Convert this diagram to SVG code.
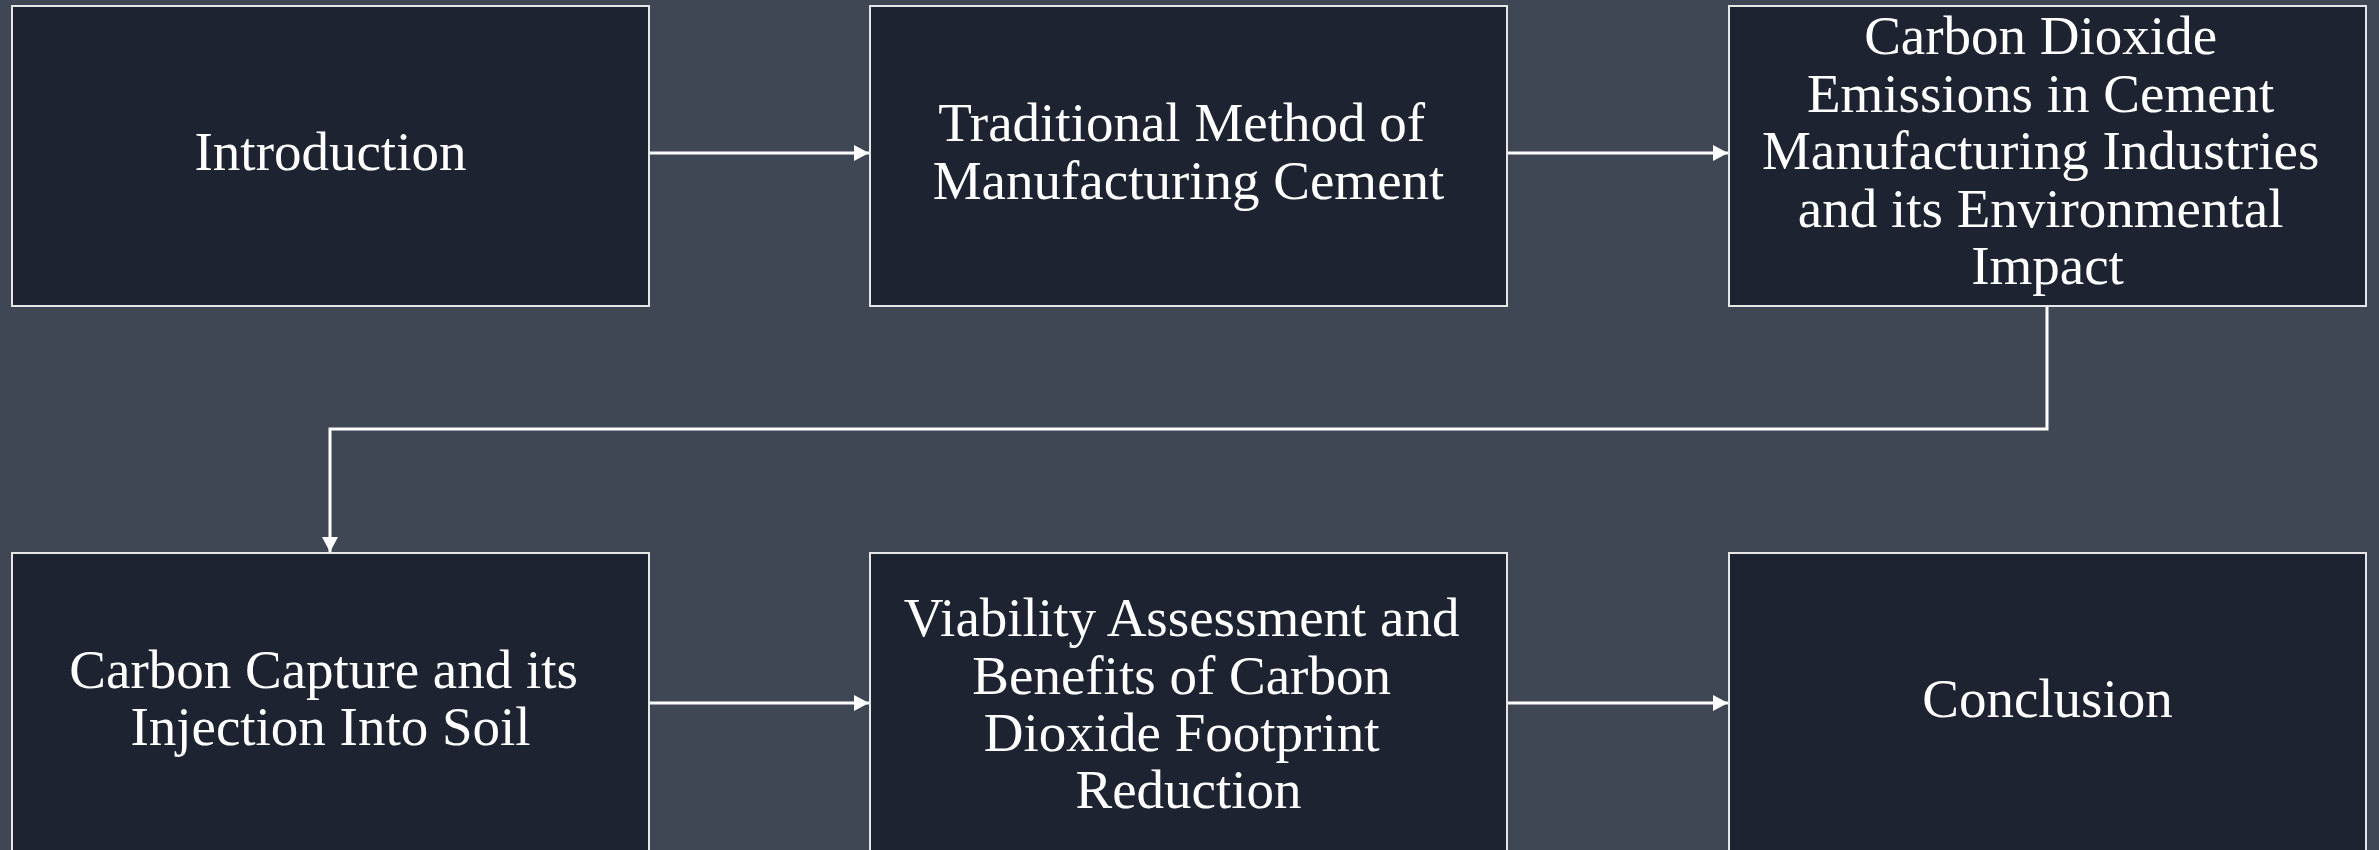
<svg xmlns="http://www.w3.org/2000/svg" width="2379" height="850" viewBox="0 0 2379 850">
  <defs>
    <marker id="arrow" markerUnits="userSpaceOnUse" markerWidth="16" markerHeight="18" refX="15" refY="8" orient="auto">
      <path d="M0,0 L15,8 L0,16 Z" fill="#ffffff"/>
    </marker>
    <style>
      .box { fill: #1e2331; stroke: #e6e6e6; stroke-width: 2; }
      .label { font-family: "Liberation Serif", "DejaVu Serif", serif; font-size: 55px; fill: #ffffff; text-anchor: middle; }
      .conn { fill: none; stroke: #ffffff; stroke-width: 3; marker-end: url(#arrow); }
    </style>
  </defs>

  <rect width="2379" height="850" fill="#404754"/>

  <!-- connectors -->
  <g id="connectors">
    <line class="conn" x1="649" y1="153" x2="869" y2="153"/>
    <line class="conn" x1="1507" y1="153" x2="1728" y2="153"/>
    <polyline class="conn" points="2047,306 2047,429 330,429 330,552"/>
    <line class="conn" x1="649" y1="703" x2="869" y2="703"/>
    <line class="conn" x1="1507" y1="703" x2="1728" y2="703"/>
  </g>

  <!-- top row -->
  <g id="introduction">
    <rect class="box" x="12" y="6" width="637" height="300"/>
    <text class="label" x="330.5" y="170">Introduction</text>
  </g>

  <g id="traditional-method">
    <rect class="box" x="870" y="6" width="637" height="300"/>
    <text class="label" x="1188.5">
      <tspan x="1188.5" y="141">Traditional Method of</tspan>
      <tspan x="1188.5" y="199">Manufacturing Cement</tspan>
    </text>
  </g>

  <g id="co2-emissions">
    <rect class="box" x="1729" y="6" width="637" height="300"/>
    <text class="label">
      <tspan x="2047.5" y="54">Carbon Dioxide</tspan>
      <tspan x="2047.5" y="112">Emissions in Cement</tspan>
      <tspan x="2047.5" y="169">Manufacturing Industries</tspan>
      <tspan x="2047.5" y="227">and its Environmental</tspan>
      <tspan x="2047.5" y="284">Impact</tspan>
    </text>
  </g>

  <!-- bottom row -->
  <g id="carbon-capture">
    <rect class="box" x="12" y="553" width="637" height="300"/>
    <text class="label">
      <tspan x="330.5" y="688">Carbon Capture and its</tspan>
      <tspan x="330.5" y="745">Injection Into Soil</tspan>
    </text>
  </g>

  <g id="viability-assessment">
    <rect class="box" x="870" y="553" width="637" height="300"/>
    <text class="label">
      <tspan x="1188.5" y="636">Viability Assessment and</tspan>
      <tspan x="1188.5" y="694">Benefits of Carbon</tspan>
      <tspan x="1188.5" y="751">Dioxide Footprint</tspan>
      <tspan x="1188.5" y="808">Reduction</tspan>
    </text>
  </g>

  <g id="conclusion">
    <rect class="box" x="1729" y="553" width="637" height="300"/>
    <text class="label" x="2047.5" y="717">Conclusion</text>
  </g>
</svg>
